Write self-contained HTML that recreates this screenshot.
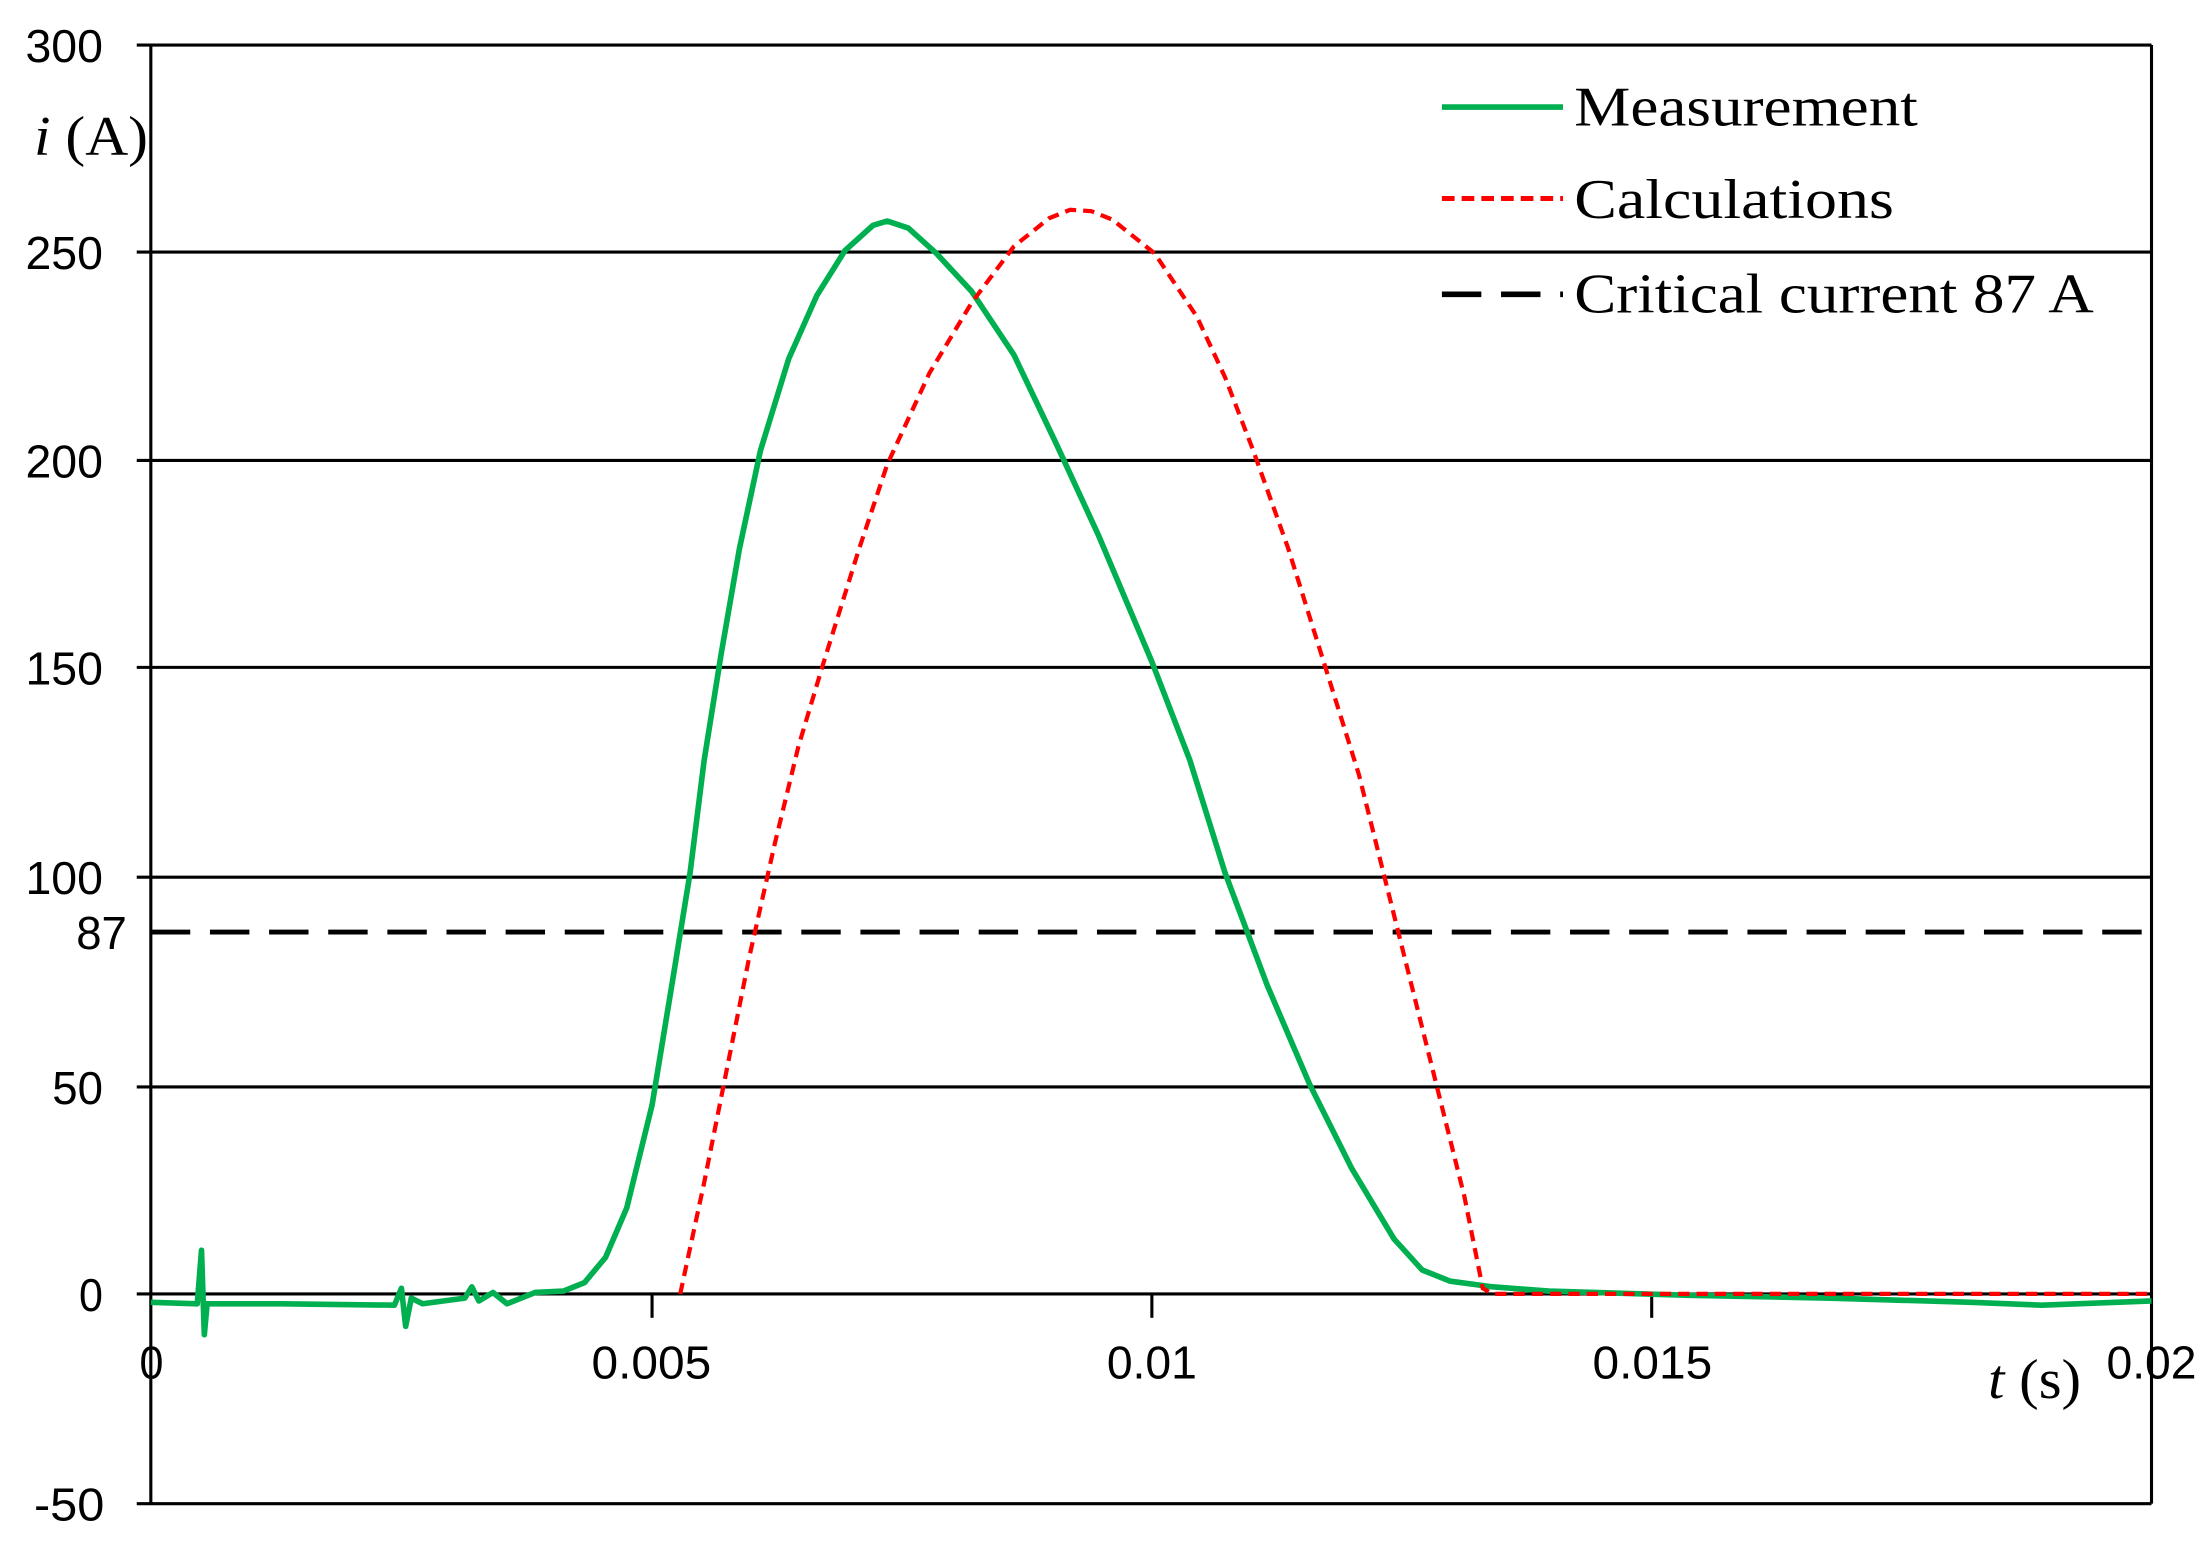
<!DOCTYPE html>
<html><head><meta charset="utf-8"><style>html,body{margin:0;padding:0;background:#fff}svg{display:block}</style></head>
<body>
<svg width="2208" height="1560" viewBox="0 0 1568 1108" xmlns="http://www.w3.org/2000/svg">
<rect width="1568" height="1108" fill="#fff"/>
<g stroke="#000" stroke-width="2.2">
<line x1="97" y1="32" x2="1528" y2="32"/>
<line x1="97" y1="179" x2="1528" y2="179"/>
<line x1="97" y1="327" x2="1528" y2="327"/>
<line x1="97" y1="474" x2="1528" y2="474"/>
<line x1="97" y1="623" x2="1528" y2="623"/>
<line x1="97" y1="772" x2="1528" y2="772"/>
<line x1="97" y1="919" x2="1528" y2="919"/>
<line x1="97" y1="1068" x2="1528" y2="1068"/>
<line x1="107" y1="32" x2="107" y2="1068"/>
<line x1="1528" y1="32" x2="1528" y2="1068"/>
<line x1="463" y1="919" x2="463" y2="936"/>
<line x1="818" y1="919" x2="818" y2="936"/>
<line x1="1173" y1="919" x2="1173" y2="936"/>
</g>
<line x1="107" y1="662" x2="1524" y2="662" stroke="#000" stroke-width="3.5" stroke-dasharray="28,14"/>
<g font-family="Liberation Sans, sans-serif" font-size="33" fill="#000" lengthAdjust="spacingAndGlyphs">
<text x="18" y="44" textLength="55" lengthAdjust="spacingAndGlyphs">300</text>
<text x="18" y="191" textLength="55" lengthAdjust="spacingAndGlyphs">250</text>
<text x="18" y="339" textLength="55" lengthAdjust="spacingAndGlyphs">200</text>
<text x="18" y="486" textLength="55" lengthAdjust="spacingAndGlyphs">150</text>
<text x="18" y="635" textLength="55" lengthAdjust="spacingAndGlyphs">100</text>
<text x="54" y="674" textLength="36" lengthAdjust="spacingAndGlyphs">87</text>
<text x="37" y="784" textLength="36" lengthAdjust="spacingAndGlyphs">50</text>
<text x="56" y="931" textLength="17" lengthAdjust="spacingAndGlyphs">0</text>
<text x="24" y="1080" textLength="50" lengthAdjust="spacingAndGlyphs">-50</text>
<text x="99" y="979" textLength="17" lengthAdjust="spacingAndGlyphs">0</text>
<text x="420" y="979" textLength="85" lengthAdjust="spacingAndGlyphs">0.005</text>
<text x="786" y="979" textLength="64" lengthAdjust="spacingAndGlyphs">0.01</text>
<text x="1131" y="979" textLength="85" lengthAdjust="spacingAndGlyphs">0.015</text>
<text x="1496" y="979" textLength="64" lengthAdjust="spacingAndGlyphs">0.02</text>
</g>
<g font-family="Liberation Serif, serif" font-size="40" fill="#000">
<text x="24" y="110" textLength="81" lengthAdjust="spacingAndGlyphs"><tspan font-style="italic">i</tspan> (A)</text>
<text x="1412" y="993" textLength="66" lengthAdjust="spacingAndGlyphs"><tspan font-style="italic">t</tspan> (s)</text>
<text x="1118" y="89" textLength="244" lengthAdjust="spacingAndGlyphs">Measurement</text>
<text x="1118" y="155" textLength="227" lengthAdjust="spacingAndGlyphs">Calculations</text>
<text x="1118" y="222" textLength="369" lengthAdjust="spacingAndGlyphs">Critical current 87 A</text>
</g>
<line x1="1024" y1="76" x2="1110" y2="76" stroke="#00b050" stroke-width="4"/>
<line x1="1024" y1="141" x2="1110" y2="141" stroke="#ff0000" stroke-width="3.5" stroke-dasharray="9,5"/>
<line x1="1024" y1="209" x2="1110" y2="209" stroke="#000" stroke-width="4" stroke-dasharray="28,14"/>
<path d="M107,925 L140,926 L143,888 L145,948 L147,926 L200,926 L280,927 L285,915 L288,942 L292,922 L300,926 L330,922 L335,914 L340,924 L350,918 L360,926 L380,918 L400,917 L415,911 L430,893 L445,858 L463,785 L477,700 L490,620 L500,540 L512,465 L525,390 L540,320 L560,255 L580,210 L600,178 L620,160 L630,157 L645,162 L665,180 L690,207 L720,252 L750,315 L780,380 L818,470 L845,540 L870,620 L900,700 L930,770 L960,830 L990,880 L1010,902 L1030,910 L1060,914 L1100,917 L1200,920 L1300,922 L1400,925 L1450,927 L1528,924" fill="none" stroke="#00b050" stroke-width="4" stroke-linejoin="round"/>
<path d="M483,919 L500,840 L515,765 L532,680 L550,600 L567,530 L585,470 L610,390 L630,330 L660,265 L690,215 L720,175 L745,155 L760,149 L775,150 L790,156 L820,180 L850,225 L870,268 L890,320 L915,390 L940,470 L965,550 L985,630 L1005,710 L1020,770 L1040,850 L1053,915 L1060,919 L1528,919" fill="none" stroke="#ff0000" stroke-width="3" stroke-dasharray="8,5"/>
</svg>
</body></html>
